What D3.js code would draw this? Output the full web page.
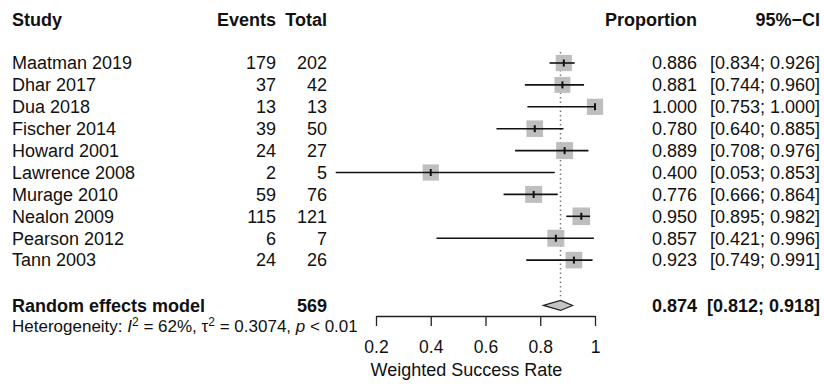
<!DOCTYPE html>
<html>
<head>
<meta charset="utf-8">
<script src="https://d3js.org/d3.v7.min.js"></script>

<script>

    // study level data
    var studies    = ['Maatman 2019','Dhar 2017','Dua 2018','Fischer 2014','Howard 2001',
                      'Lawrence 2008','Murage 2010','Nealon 2009','Pearson 2012','Tann 2003'];
    var events     = [179, 37, 13, 39, 24, 2, 59, 115, 6, 24];
    var totals     = [202, 42, 13, 50, 27, 5, 76, 121, 7, 26];
    var proportion = [0.886, 0.881, 1.000, 0.780, 0.889, 0.400, 0.776, 0.950, 0.857, 0.923];
    var ciLower    = [0.834, 0.744, 0.753, 0.640, 0.708, 0.053, 0.666, 0.895, 0.421, 0.749];
    var ciUpper    = [0.926, 0.960, 1.000, 0.885, 0.976, 0.853, 0.864, 0.982, 0.996, 0.991];
    var weights    = [9.5, 9.2, 9.5, 10.0, 10.4, 9.5, 10.4, 11.2, 10.4, 10.0];

    // random effects summary
    var reTotal = 569;
    var reEst   = 0.874;
    var reLower = 0.812;
    var reUpper = 0.918;

    var xTicks  = [0.2, 0.4, 0.6, 0.8, 1];
    var xTitle  = 'Weighted Success Rate';

    function fmt(v) { return d3.format('.3f')(v); }

    function render()
    {
        var dims = {"width": 824, "height": 385};

        var svg = d3.select("div#chartHere")
          .append("svg")
          .attr("width",  dims.width)
          .attr("height", dims.height);

        svg.append('rect')
           .attr('width', dims.width)
           .attr('height', dims.height)
           .attr('fill', 'white');

        // row index -> vertical centre
        var yRow = d3.scaleLinear().domain([0, 1]).range([63, 84.9]);

        var xScale = d3.scaleLinear()
               .domain([0.2, 1])
               .range([376, 595]);

        var sizeScale = d3.scaleSqrt()
               .domain([0, d3.max(weights)])
               .range([0, 17.6]);

        var col = {study: 12, events: 276, total: 327, prop: 697, ci: 820};

        // header
        var head = [ ['Study', col.study, 'start'], ['Events', col.events, 'end'], ['Total', col.total, 'end'],
                     ['Proportion', col.prop, 'end'], ['95%\u2212CI', col.ci, 'end'] ];
        svg.selectAll('text.head')
           .data(head)
           .enter().append('text')
           .attr('class', 'head')
           .text(function(d) { return d[0]; })
           .attr('x', function(d) { return d[1]; })
           .attr('y', yRow(-2))
           .attr('dy', '0.35em')
           .style('text-anchor', function(d) { return d[2]; })
           .style('font-weight', 'bold');

        // dotted line at the summary estimate
        svg.append('line')
           .attr('x1', xScale(reEst))
           .attr('x2', xScale(reEst))
           .attr('y1', yRow(-0.5))
           .attr('y2', yRow(10.65))
           .attr('stroke', '#777')
           .attr('stroke-width', 1.5)
           .attr('stroke-dasharray', '1.5,3');

        for (var j = 0; j < studies.length; j++)
        {
            var y = yRow(j);

            svg.append('text').attr('class', 'cell')
               .text(studies[j]).attr('x', col.study).attr('y', y).attr('dy', '0.35em');
            svg.append('text').attr('class', 'cell')
               .text(events[j]).attr('x', col.events).attr('y', y).attr('dy', '0.35em')
               .style('text-anchor', 'end');
            svg.append('text').attr('class', 'cell')
               .text(totals[j]).attr('x', col.total).attr('y', y).attr('dy', '0.35em')
               .style('text-anchor', 'end');
            svg.append('text').attr('class', 'cell')
               .text(fmt(proportion[j])).attr('x', col.prop).attr('y', y).attr('dy', '0.35em')
               .style('text-anchor', 'end');
            svg.append('text').attr('class', 'cell')
               .text('[' + fmt(ciLower[j]) + '; ' + fmt(ciUpper[j]) + ']')
               .attr('x', col.ci).attr('y', y).attr('dy', '0.35em')
               .style('text-anchor', 'end');

            var s = sizeScale(weights[j]);
            svg.append('rect')
               .attr('x', xScale(proportion[j]) - s / 2)
               .attr('y', y - s / 2)
               .attr('width', s)
               .attr('height', s)
               .attr('fill', '#bebebe');

            svg.append('line')
               .attr('x1', xScale(ciLower[j]))
               .attr('x2', xScale(ciUpper[j]))
               .attr('y1', y).attr('y2', y)
               .attr('stroke', '#111')
               .attr('stroke-width', 1.6);

            svg.append('line')
               .attr('x1', xScale(proportion[j]))
               .attr('x2', xScale(proportion[j]))
               .attr('y1', y - 3.5).attr('y2', y + 3.5)
               .attr('stroke', '#111')
               .attr('stroke-width', 2);
        }

        // summary row
        var ys = yRow(11.07);
        svg.append('text').attr('class', 'cell')
           .text('Random effects model').attr('x', col.study).attr('y', ys).attr('dy', '0.35em')
           .style('font-weight', 'bold');
        svg.append('text').attr('class', 'cell')
           .text(reTotal).attr('x', col.total).attr('y', ys).attr('dy', '0.35em')
           .style('text-anchor', 'end').style('font-weight', 'bold');
        svg.append('text').attr('class', 'cell')
           .text(fmt(reEst) + '  [' + fmt(reLower) + '; ' + fmt(reUpper) + ']')
           .attr('x', col.ci).attr('y', ys).attr('dy', '0.35em')
           .attr('xml:space', 'preserve')
           .style('white-space', 'pre')
           .style('text-anchor', 'end').style('font-weight', 'bold');

        var dh = 5;
        svg.append('path')
           .attr('d', 'M' + xScale(reLower) + ',' + ys +
                      'L' + xScale(reEst) + ',' + (ys - dh) +
                      'L' + xScale(reUpper) + ',' + ys +
                      'L' + xScale(reEst) + ',' + (ys + dh) + 'Z')
           .attr('fill', '#c4c4c4')
           .attr('stroke', '#222')
           .attr('stroke-width', 1.2);

        // heterogeneity
        var het = svg.append('text')
           .attr('class', 'het')
           .attr('x', col.study)
           .attr('y', yRow(12))
           .attr('dy', '0.35em');
        het.append('tspan').text('Heterogeneity: ');
        het.append('tspan').text('I').style('font-style', 'italic');
        het.append('tspan').text('2').attr('dy', '-6').attr('class', 'sup');
        het.append('tspan').text(' = 62%, \u03C4').attr('dy', '6');
        het.append('tspan').text('2').attr('dy', '-6').attr('class', 'sup');
        het.append('tspan').text(' = 0.3074, ').attr('dy', '6');
        het.append('tspan').text('p').style('font-style', 'italic');
        het.append('tspan').text(' < 0.01');

        // x axis
        var xAxis = d3.axisBottom(xScale)
           .tickValues(xTicks)
           .tickFormat(d3.format('~g'))
           .tickSize(10)
           .tickSizeOuter(0)
           .tickPadding(15);

        svg.append('g')
           .attr('class', 'xaxis')
           .attr('transform', 'translate(0,316)')
           .call(xAxis);

        svg.append('text')
           .attr('class', 'cell')
           .text(xTitle)
           .attr('x', xScale(0.6) - 19)
           .attr('y', 370)
           .attr('dy', '0.35em')
           .style('text-anchor', 'middle');
    }

</script>

<style type="text/css">
    body { margin: 0; padding: 0; background: white; }
    text { font-family: "Liberation Sans", Arial, sans-serif; font-size: 18px; fill: #111; }
    text.het, text.het tspan { font-size: 17px; }
    text.het tspan.sup { font-size: 12px; }
    .xaxis .domain { stroke: #222; stroke-width: 1.3; }
    .xaxis .tick line { stroke: #222; stroke-width: 1.3; }
    .xaxis .tick text { font-family: "Liberation Sans", Arial, sans-serif; font-size: 17.5px; fill: #111; }
</style>
</head>

<body onload="render()">
<div id="chartHere"></div>
</body>
</html>
